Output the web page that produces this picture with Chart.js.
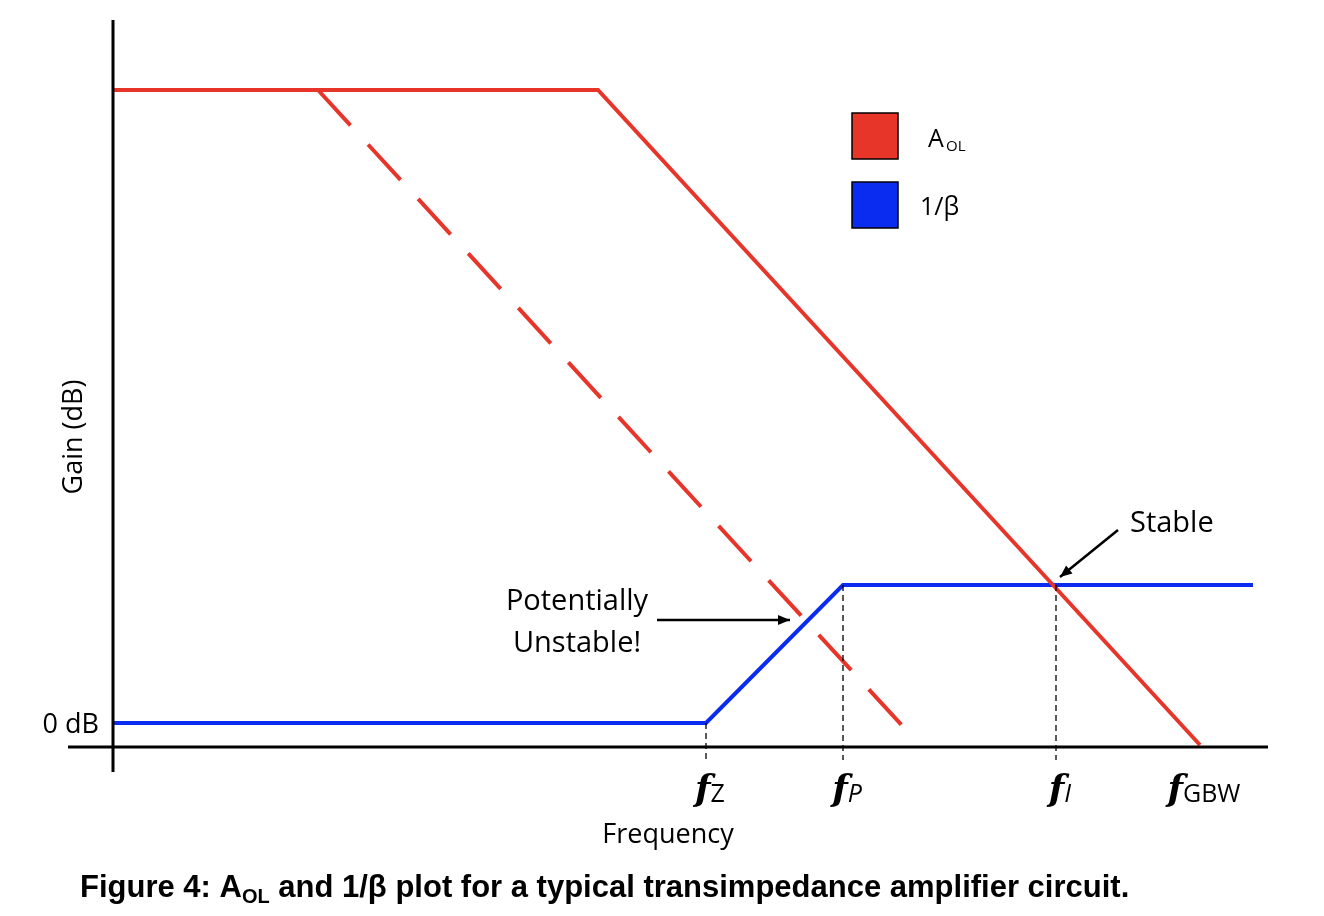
<!DOCTYPE html>
<html><head><meta charset="utf-8">
<script src="https://cdn.jsdelivr.net/npm/chart.js@4"></script>
<style>html,body{margin:0;background:#fff}#wrap{width:1324px;height:916px;position:relative}</style>
</head><body><div id="wrap"><canvas id="c"></canvas></div>
<script>
// Bode-style sketch, units are arbitrary (x: frequency, y: gain above 0 dB line)
const aolX = [0, 485, 1087];
const aolY = [657, 657, 2];
const aolDashX = [205, 795];
const aolDashY = [657, 15];
const betaX = [0, 593, 730, 1140];
const betaY = [24, 24, 162, 162];
const markX = [593, 730, 943, 1087];
const markLabels = ['Z', 'P', 'I', 'GBW'];
const markTop = [24, 162, 162, null];

const pts = (xs, ys) => xs.map((x, i) => ({ x, y: ys[i] }));
const RED = '#e8352a', BLUE = '#0a2bf0';

function arrow(ctx, x1, y1, x2, y2) {
  ctx.strokeStyle = '#000'; ctx.fillStyle = '#000'; ctx.lineWidth = 2.5;
  ctx.beginPath(); ctx.moveTo(x1, y1); ctx.lineTo(x2, y2); ctx.stroke();
  const a = Math.atan2(y2 - y1, x2 - x1), L = 13;
  ctx.beginPath(); ctx.moveTo(x2, y2);
  ctx.lineTo(x2 - L * Math.cos(a - 0.4), y2 - L * Math.sin(a - 0.4));
  ctx.lineTo(x2 - L * Math.cos(a + 0.4), y2 - L * Math.sin(a + 0.4));
  ctx.closePath(); ctx.fill();
}

const decor = {
  id: 'decor',
  afterDatasetsDraw(chart) {
    const { ctx, chartArea: a, scales: { x, y } } = chart;
    const y0 = y.getPixelForValue(0);
    ctx.save();
    // axes
    ctx.strokeStyle = '#000'; ctx.lineWidth = 3;
    ctx.beginPath(); ctx.moveTo(68, y0); ctx.lineTo(a.right, y0);
    ctx.moveTo(a.left, a.top); ctx.lineTo(a.left, y0 + 25); ctx.stroke();
    // marker lines + labels
    ctx.setLineDash([6, 4]); ctx.lineWidth = 1.3;
    markX.forEach((v, i) => {
      if (markTop[i] == null) return;
      const px = x.getPixelForValue(v);
      ctx.beginPath(); ctx.moveTo(px, y.getPixelForValue(markTop[i])); ctx.lineTo(px, y0 + 13); ctx.stroke();
    });
    ctx.setLineDash([]);
    ctx.fillStyle = '#000'; ctx.textBaseline = 'alphabetic';
    markX.forEach((v, i) => {
      const px = x.getPixelForValue(v);
      const sub = markLabels[i];
      const subFont = (sub === 'P' || sub === 'I' ? 'italic ' : '') + '25px "Open Sans"';
      ctx.font = 'italic bold 36px "DejaVu Serif"';
      const fw = ctx.measureText('f').width;
      ctx.font = subFont;
      const sw = ctx.measureText(sub).width;
      const sx = px - (fw + sw) / 2 + 4;
      ctx.font = 'italic bold 36px "DejaVu Serif"';
      ctx.textAlign = 'left'; ctx.fillText('f', sx, 800);
      ctx.font = subFont;
      ctx.fillText(sub, sx + fw, 802);
    });
    ctx.font = '27px "Open Sans"'; ctx.textAlign = 'center';
    ctx.fillText('Frequency', 668, 843);
    ctx.textAlign = 'right'; ctx.fillText('0 dB', 99, 733);
    ctx.save(); ctx.translate(82, 437); ctx.rotate(-Math.PI / 2);
    ctx.textAlign = 'center'; ctx.fillText('Gain (dB)', 0, 0); ctx.restore();
    // legend
    ctx.lineWidth = 1.5; ctx.strokeStyle = '#000';
    ctx.fillStyle = RED; ctx.fillRect(852, 113, 46, 46); ctx.strokeRect(852, 113, 46, 46);
    ctx.fillStyle = BLUE; ctx.fillRect(852, 182, 46, 46); ctx.strokeRect(852, 182, 46, 46);
    ctx.fillStyle = '#000'; ctx.textAlign = 'left';
    ctx.font = '25px "Open Sans"'; ctx.fillText('A', 928, 147);
    ctx.font = '15px "Open Sans"'; ctx.fillText('OL', 946, 151);
    ctx.font = '25px "Open Sans"'; ctx.fillText('1/β', 920, 215);
    // annotations
    ctx.font = '29px "Open Sans"';
    ctx.fillText('Stable', 1130, 532);
    ctx.textAlign = 'center';
    ctx.fillText('Potentially', 577, 610);
    ctx.fillText('Unstable!', 577, 652);
    arrow(ctx, 1118, 530, 1060, 577);
    arrow(ctx, 657, 620, 790, 620);
    // caption
    ctx.font = 'bold 31px "Liberation Sans"'; ctx.textAlign = 'left';
    let cx = 80;
    ctx.fillText('Figure 4: A', cx, 897); cx += ctx.measureText('Figure 4: A').width;
    ctx.font = 'bold 20px "Liberation Sans"'; ctx.fillText('OL', cx, 903); cx += ctx.measureText('OL').width;
    ctx.font = 'bold 31px "Liberation Sans"';
    ctx.fillText(' and 1/β plot for a typical transimpedance amplifier circuit.', cx, 897);
    ctx.restore();
  }
};

new Chart(document.getElementById('c'), {
  type: 'line',
  data: {
    datasets: [
      { data: pts(aolX, aolY), borderColor: RED, borderWidth: 4 },
      { data: pts(aolDashX, aolDashY), borderColor: RED, borderWidth: 4, borderDash: [48, 26] },
      { data: pts(betaX, betaY), borderColor: BLUE, borderWidth: 4 }
    ]
  },
  options: {
    responsive: true, maintainAspectRatio: false, animation: false,
    elements: { point: { radius: 0 }, line: { tension: 0 } },
    layout: { padding: { left: 113, right: 56, top: 20, bottom: 169 } },
    scales: {
      x: { type: 'linear', min: 0, max: 1155, display: false },
      y: { min: 0, max: 727, display: false }
    },
    plugins: { legend: { display: false }, tooltip: { enabled: false } }
  },
  plugins: [decor]
});
</script></body></html>
